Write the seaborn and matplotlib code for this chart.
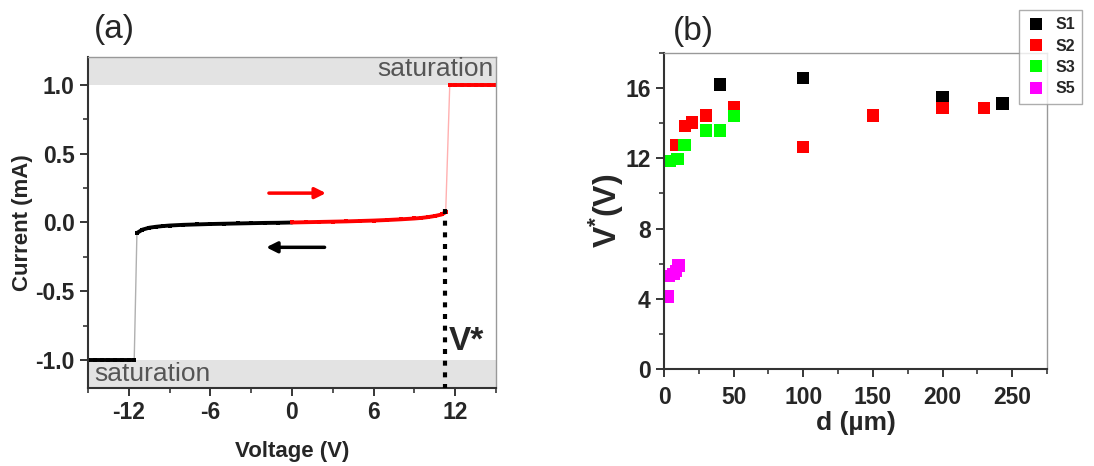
import pandas as pd
import seaborn as sns
import matplotlib.pyplot as plt
from matplotlib.ticker import MultipleLocator

# ---- (a) I-V sweep ----
v_up = [0, 1, 2, 3, 4, 5, 6, 7, 8, 9, 9.5, 10, 10.5, 11, 11.3]
i_up = [0, 0.002, 0.004, 0.006, 0.008, 0.011, 0.014, 0.018, 0.023, 0.029, 0.033, 0.039, 0.047, 0.058, 0.075]
v_up_sat = [11.6, 12, 12.5, 13, 13.5, 14, 14.5, 15]
i_up_sat = [1.0, 1.0, 1.0, 1.0, 1.0, 1.0, 1.0, 1.0]

v_down = [0, -1, -2, -3, -4, -5, -6, -7, -8, -9, -9.5, -10, -10.5, -11, -11.4]
i_down = [0, -0.002, -0.003, -0.005, -0.007, -0.009, -0.011, -0.014, -0.017, -0.022, -0.026, -0.031, -0.038, -0.052, -0.076]
v_down_sat = [-11.6, -12, -12.5, -13, -13.5, -14, -14.5, -15]
i_down_sat = [-1.0, -1.0, -1.0, -1.0, -1.0, -1.0, -1.0, -1.0]

v_star = 11.25

# ---- (b) V* vs d ----
s1_d = [40, 100, 200, 243]
s1_v = [16.2, 16.57, 15.47, 15.12]
s2_d = [8.6, 15, 20, 30, 50, 100, 150, 200, 230]
s2_v = [12.76, 13.85, 14.04, 14.44, 14.9, 12.65, 14.44, 14.86, 14.86]
s3_d = [4.3, 9.6, 14.6, 30, 40, 50]
s3_v = [11.85, 11.98, 12.76, 13.58, 13.58, 14.42]
s5_d = [2.4, 3.1, 6.7, 8.6, 10.3]
s5_v = [4.13, 5.31, 5.43, 5.6, 5.9]

sns.set_style("ticks")
plt.rcParams['font.family'] = ['Liberation Sans', 'DejaVu Sans']
plt.rcParams['mathtext.fontset'] = 'custom'
plt.rcParams['mathtext.bf'] = 'Liberation Sans:bold'
plt.rcParams['axes.unicode_minus'] = False

fig = plt.figure(figsize=(10.94, 4.66), dpi=100)
ax1 = fig.add_axes([0.0804, 0.1674, 0.373, 0.7103])
ax2 = fig.add_axes([0.607, 0.2082, 0.350, 0.678])

# ---------- panel (a) ----------
ax1.axhspan(1.0, 1.2, color='#e3e3e3', lw=0, zorder=0)
ax1.axhspan(-1.2, -1.0, color='#e3e3e3', lw=0, zorder=0)

# thin jump lines
sns.lineplot(x=v_down + v_down_sat, y=i_down + i_down_sat, sort=False, estimator=None,
             color='#b0b0b0', lw=1, ax=ax1)
sns.lineplot(x=v_up + v_up_sat, y=i_up + i_up_sat, sort=False, estimator=None,
             color='#ffb0b0', lw=1, ax=ax1)
for xs, ys, c in [(v_down, i_down, 'black'), (v_down_sat, i_down_sat, 'black'),
                  (v_up, i_up, 'red'), (v_up_sat, i_up_sat, 'red')]:
    sns.lineplot(x=xs, y=ys, sort=False, estimator=None, color=c, lw=2.8,
                 marker='s', markersize=3.5, markeredgewidth=0, ax=ax1)

ax1.plot([v_star, v_star], [0.1, -1.2], color='black', lw=3,
         ls=(0, (1.2, 1.6)), zorder=5)
ax1.text(v_star + 0.3, -0.86, 'V*', fontsize=24, fontweight='bold', ha='left', va='center')

ax1.annotate('', xy=(2.7, 0.213), xytext=(-1.9, 0.213),
             arrowprops=dict(arrowstyle='-|>', color='red', lw=2.5, mutation_scale=16))
ax1.annotate('', xy=(-2.1, -0.18), xytext=(2.6, -0.18),
             arrowprops=dict(arrowstyle='-|>', color='black', lw=2.5, mutation_scale=16))

ax1.text(14.8, 1.11, 'saturation', color='#555555', fontsize=19, ha='right', va='center')
ax1.text(-14.5, -1.095, 'saturation', color='#555555', fontsize=19, ha='left', va='center')

ax1.set_xlim(-15, 15)
ax1.set_ylim(-1.2, 1.2)
ax1.set_xticks([-12, -6, 0, 6, 12])
ax1.xaxis.set_minor_locator(MultipleLocator(3))
ax1.set_yticks([-1.0, -0.5, 0.0, 0.5, 1.0])
ax1.set_yticklabels(['-1.0', '-0.5', '0.0', '0.5', '1.0'])
ax1.yaxis.set_minor_locator(MultipleLocator(0.25))
ax1.set_xlabel('Voltage (V)', fontsize=16, fontweight='bold', labelpad=12)
ax1.set_ylabel('Current (mA)', fontsize=16, fontweight='bold', labelpad=2)
ax1.text(-14.6, 1.285, '(a)', fontsize=24, ha='left', va='bottom')

# ---------- panel (b) ----------
df = pd.concat([
    pd.DataFrame({'d': s1_d, 'v': s1_v, 'sample': 'S1'}),
    pd.DataFrame({'d': s2_d, 'v': s2_v, 'sample': 'S2'}),
    pd.DataFrame({'d': s3_d, 'v': s3_v, 'sample': 'S3'}),
    pd.DataFrame({'d': s5_d, 'v': s5_v, 'sample': 'S5'}),
], ignore_index=True)
palette = {'S1': 'black', 'S2': '#ff0000', 'S3': '#00ff00', 'S5': '#ff00ff'}
sns.scatterplot(data=df, x='d', y='v', hue='sample', palette=palette, marker='s',
                s=78, linewidth=0, ax=ax2)
ax2.set_xlim(0, 275)
ax2.set_ylim(0, 18)
ax2.set_xticks([0, 50, 100, 150, 200, 250])
ax2.xaxis.set_minor_locator(MultipleLocator(25))
ax2.set_yticks([0, 4, 8, 12, 16])
ax2.yaxis.set_minor_locator(MultipleLocator(2))
ax2.set_xlabel('d (µm)', fontsize=19, fontweight='bold', labelpad=2)
ax2.set_ylabel(r'V$^{\mathbf{*}}$(V)', fontsize=23, fontweight='bold', labelpad=0)
ax2.text(6, 18.35, '(b)', fontsize=24, ha='left', va='bottom')

sns.move_legend(ax2, loc='upper right', bbox_to_anchor=(0.989, 0.9785),
                bbox_transform=fig.transFigure, title=None, frameon=True,
                prop={'weight': 'bold', 'size': 11.5}, handletextpad=0.6,
                handlelength=1.2, labelspacing=0.4, borderpad=0.45,
                borderaxespad=0, fancybox=False, markerscale=1.0)
leg = ax2.get_legend()
leg.get_frame().set_edgecolor('#999999')
leg.get_frame().set_linewidth(1)

for ax in (ax1, ax2):
    for side in ('top', 'right'):
        ax.spines[side].set_visible(True)
        ax.spines[side].set_color('#999999')
        ax.spines[side].set_linewidth(1)
    for side in ('left', 'bottom'):
        ax.spines[side].set_color('#333333')
        ax.spines[side].set_linewidth(1.5)
    ax.tick_params(which='major', direction='out', length=6, width=1.3,
                   labelsize=16.5, top=False, right=False)
    ax.tick_params(which='minor', direction='out', length=3.5, width=1.1,
                   top=False, right=False)
    for lab in ax.get_xticklabels() + ax.get_yticklabels():
        lab.set_fontweight('bold')
ax2.tick_params(axis='x', which='major', pad=6)

fig.savefig('out.png', dpi=100)
